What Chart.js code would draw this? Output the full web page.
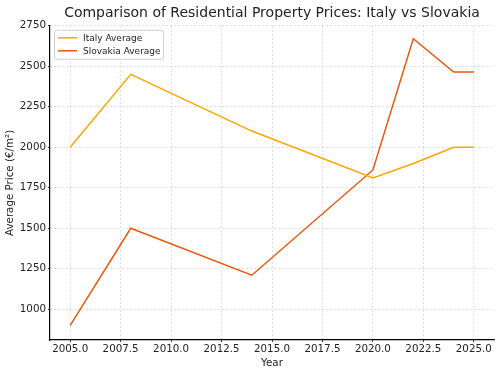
<!DOCTYPE html>
<html><head><meta charset="utf-8">
<script src="https://cdn.jsdelivr.net/npm/chart.js@4/dist/chart.umd.min.js"></script>
<style>html,body{margin:0;padding:0;background:#fff}#wrap{width:500px;height:374px}</style>
</head><body><div id="wrap"><canvas id="c" width="500" height="374"></canvas></div>
<script>
const years = [2005, 2008, 2014, 2020, 2022, 2024, 2025];
const italyAvg = [2000, 2450, 2100, 1810, 1900, 2000, 2000];
const slovakiaAvg = [900, 1500, 1210, 1860, 2670, 2465, 2465];
const seriesLabels = ['Italy Average', 'Slovakia Average'];
const seriesColors = ['#FFA500', '#E8590C'];
const xTickValues = [2005, 2007.5, 2010, 2012.5, 2015, 2017.5, 2020, 2022.5, 2025];
const yTickValues = [1000, 1250, 1500, 1750, 2000, 2250, 2500, 2750];
const FONT = "'DejaVu Sans', sans-serif";

const legendInside = {
  id: 'legendInside',
  afterDraw(chart) {
    const ctx = chart.ctx, a = chart.chartArea;
    const x = a.left + 4, y = a.top + 4, w = 109, h = 29;
    ctx.save();
    ctx.fillStyle = 'rgba(255,255,255,0.85)';
    ctx.strokeStyle = '#d0d0d0';
    ctx.lineWidth = 1;
    ctx.beginPath();
    ctx.roundRect(x + 0.5, y + 0.5, w, h, 2);
    ctx.fill(); ctx.stroke();
    ctx.font = '9px ' + FONT;
    ctx.textBaseline = 'middle';
    chart.data.datasets.forEach((ds, i) => {
      const ly = y + 8 + i * 13;
      ctx.strokeStyle = ds.borderColor; ctx.lineWidth = 1.5;
      ctx.beginPath(); ctx.moveTo(x + 4, ly); ctx.lineTo(x + 23, ly); ctx.stroke();
      ctx.fillStyle = '#222';
      ctx.fillText(ds.label, x + 29, ly + 0.5);
    });
    ctx.restore();
  }
};

new Chart(document.getElementById('c'), {
  type: 'line',
  data: {
    datasets: [
      { label: seriesLabels[0], data: years.map((y, i) => ({x: y, y: italyAvg[i]})), borderColor: seriesColors[0], borderWidth: 1.5, pointRadius: 0, tension: 0, fill: false },
      { label: seriesLabels[1], data: years.map((y, i) => ({x: y, y: slovakiaAvg[i]})), borderColor: seriesColors[1], borderWidth: 1.5, pointRadius: 0, tension: 0, fill: false }
    ]
  },
  options: {
    responsive: false, animation: false,
    layout: { padding: { left: 0, right: 6, top: 0, bottom: 0 } },
    plugins: {
      legend: { display: false },
      tooltip: { enabled: false },
      title: { display: true, fullSize: false, text: 'Comparison of Residential Property Prices: Italy vs Slovakia', color: '#222', font: { family: FONT, size: 14, weight: 'normal' }, padding: { top: 5, bottom: 4 } }
    },
    scales: {
      x: {
        type: 'linear', min: 2004, max: 2026,
        afterBuildTicks(s) { s.ticks = xTickValues.map(v => ({ value: v })); },
        ticks: { color: '#222', font: { family: FONT, size: 10.3 }, padding: 1, maxRotation: 0, autoSkip: false, callback: v => v.toFixed(1) },
        grid: { color: '#d3d3d3', lineWidth: 0.8, drawTicks: true, tickLength: 2, tickColor: '#000' },
        border: { display: true, color: '#000', width: 1.2, dash: [2, 2] },
        title: { display: true, text: 'Year', color: '#222', font: { family: FONT, size: 10.3 }, padding: { top: 0, bottom: 4 } },
        afterFit(s) { s.height = 34; }
      },
      y: {
        min: 810, max: 2750,
        afterBuildTicks(s) { s.ticks = yTickValues.map(v => ({ value: v })); },
        ticks: { color: '#222', font: { family: FONT, size: 10.3 }, padding: 2, autoSkip: false, callback: v => String(v) },
        grid: { color: '#d3d3d3', lineWidth: 0.8, drawTicks: true, tickLength: 2, tickColor: '#000' },
        border: { display: true, color: '#000', width: 1.2, dash: [2, 2] },
        title: { display: true, text: 'Average Price (€/m²)', color: '#222', font: { family: FONT, size: 10.3 }, padding: { top: 4, bottom: 0 } },
        afterFit(s) { s.width = 50; }
      }
    }
  },
  plugins: [legendInside]
});
</script></body></html>
